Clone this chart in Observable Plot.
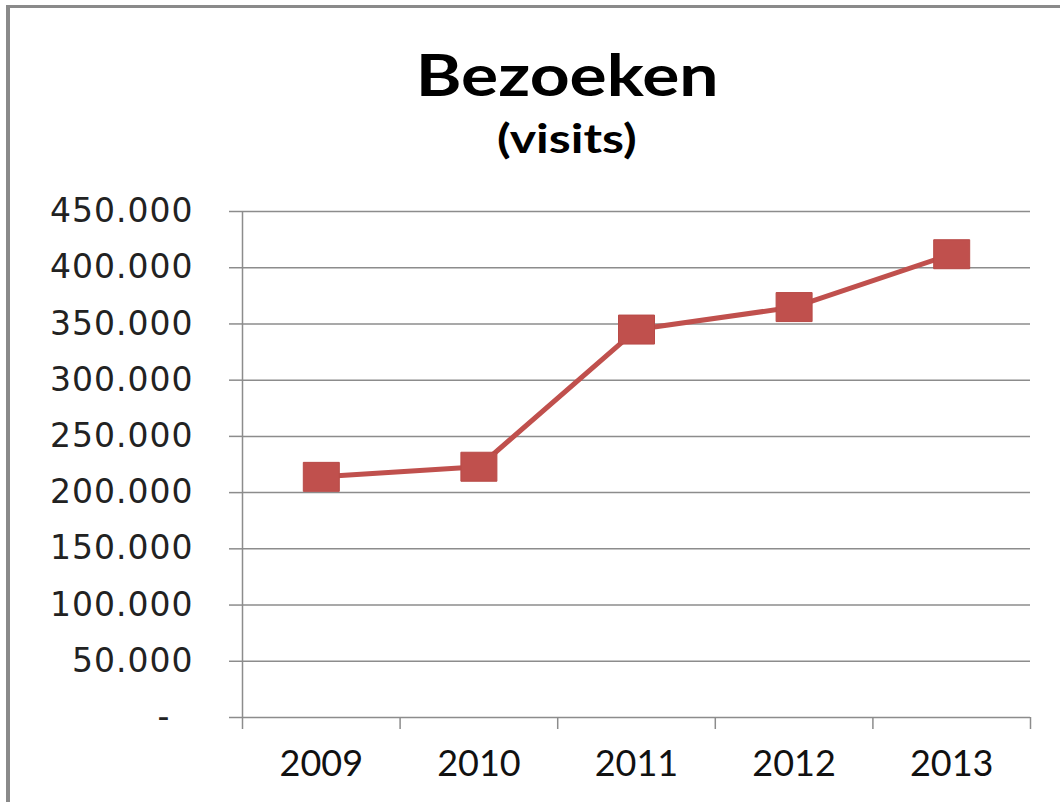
<!DOCTYPE html>
<html>
<head>
<meta charset="utf-8">
<script src="https://cdn.jsdelivr.net/npm/d3@7"></script>
<script src="https://cdn.jsdelivr.net/npm/@observablehq/plot@0.6"></script>
<style>
  html, body { margin: 0; padding: 0; background: #fff; overflow: hidden; }
  #page { position: relative; width: 1060px; height: 802px; overflow: hidden; }
  #frame { position: absolute; left: 6px; top: 5px; width: 1200px; height: 900px;
           border-left: 4px solid #8a8a8a; border-top: 3px solid #8a8a8a; }
  #titles { position: absolute; left: 0; top: 0; width: 1134px; text-align: center;
            font-family: Lato, "Open Sans", sans-serif; font-weight: 700; color: #000; }
  #title { position: absolute; left: 0; width: 100%; top: 45px; font-size: 58px; line-height: 58px; }
  #subtitle { position: absolute; left: 0; width: 100%; top: 118px; font-size: 40px; line-height: 40px; }
  #title span { display: inline-block; transform: scaleX(1.2); transform-origin: center; }
  #subtitle span { display: inline-block; transform: scaleX(1.25); transform-origin: center; }
  #chart { position: absolute; left: 0; top: 180px; }
  #chart g[aria-label="y-axis tick label"] text { letter-spacing: 1px; }
</style>
</head>
<body>
<div id="page">
  <div id="frame"></div>
  <div id="titles">
    <div id="title"><span></span></div>
    <div id="subtitle"><span></span></div>
  </div>
  <div id="chart"></div>
</div>
<script>
// ---- data ----
const titleText = "Bezoeken";
const subtitleText = "(visits)";
const years = [2009, 2010, 2011, 2012, 2013];
const visits = [214000, 223000, 345000, 365000, 412000];
const yTickValues = [0, 50000, 100000, 150000, 200000, 250000, 300000, 350000, 400000, 450000];
const categoryEdges = [2008.5, 2009.5, 2010.5, 2011.5, 2012.5, 2013.5];

document.querySelector("#title span").textContent = titleText;
document.querySelector("#subtitle span").textContent = subtitleText;

const data = years.map((year, i) => ({year, visits: visits[i]}));

const nl = d3.formatLocale({decimal: ",", thousands: ".", grouping: [3], currency: ["€", ""]});
const fmt = nl.format(",d");
const yFormat = v => v === 0 ? "-\u00a0\u00a0" : fmt(v);

const red = "#C0504D";
const grid = "#8c8c8c";

// rectangular marker (chart is horizontally stretched)
const markerSymbol = {
  draw(context) {
    const w = 18, h = 14.5;
    context.moveTo(-w, -h);
    context.lineTo(w, -h);
    context.lineTo(w, h);
    context.lineTo(-w, h);
    context.closePath();
  }
};

const chart = Plot.plot({
  width: 1060,
  height: 622,
  marginLeft: 242,
  marginRight: 30,
  marginTop: 31,
  marginBottom: 85,
  style: {fontFamily: "'DejaVu Sans', Verdana, sans-serif", fontSize: "33px", color: "#222", background: "transparent", overflow: "visible"},
  x: {type: "linear", domain: [categoryEdges[0], categoryEdges[categoryEdges.length - 1]], label: null},
  y: {domain: [0, 450000], label: null},
  marks: [
    Plot.gridY(yTickValues, {stroke: grid, strokeOpacity: 1, strokeWidth: 1.5}),
    Plot.axisY(yTickValues, {tickSize: 13, tickPadding: 36, tickFormat: yFormat, stroke: grid, strokeWidth: 1.5, fill: "#222", fontSize: 33, label: null}),
    Plot.ruleX([categoryEdges[0]], {stroke: grid, strokeWidth: 1.5}),
    Plot.axisX(categoryEdges, {tickSize: 12, tickFormat: () => "", stroke: grid, strokeWidth: 1.5, label: null}),
    Plot.axisX(years, {tickSize: 0, tickPadding: 33, tickFormat: d => String(d), fontFamily: "Lato, 'Open Sans', sans-serif", fontSize: 36, fill: "#111", label: null}),
    Plot.line(data, {x: "year", y: "visits", stroke: red, strokeWidth: 5, strokeLinejoin: "round"}),
    Plot.dot(data, {x: "year", y: "visits", symbol: markerSymbol, fill: red, stroke: "#b84a47", strokeWidth: 1})
  ]
});

document.getElementById("chart").appendChild(chart);
</script>
</body>
</html>
